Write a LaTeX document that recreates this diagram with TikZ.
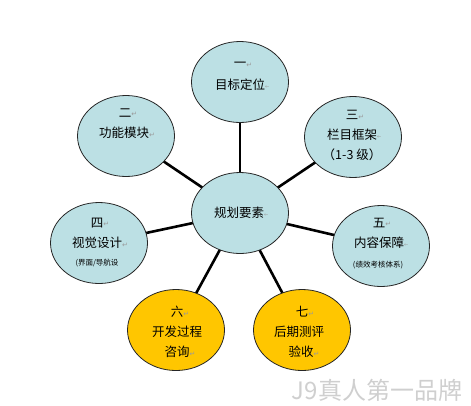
\documentclass[tikz,border=0pt]{standalone}
\usepackage{fontspec}
\setmainfont{Noto Sans CJK SC}
\newfontfamily\dv{DejaVu Sans}
\usetikzlibrary{shapes.geometric}
\definecolor{aquafill}{HTML}{BCE0E4}
\definecolor{goldfill}{HTML}{FFC600}
\definecolor{markgray}{HTML}{9A9A9A}
\definecolor{wmgray}{HTML}{CFCFCF}
\newcommand{\pmarkx}{\rlap{\textcolor{markgray}{\dv\scriptsize\raisebox{0.15ex}{↵}}}}
\newcommand{\amarkx}{\rlap{\textcolor{markgray}{\dv\tiny\raisebox{0.4ex}{←}}}}
\tikzset{
  bubble/.style={ellipse, draw=black!85, line width=0.8pt, minimum width=97pt, minimum height=81pt, inner sep=0pt},
  aqua/.style={bubble, fill=aquafill},
  gold/.style={bubble, fill=goldfill},
  lbl/.style={font=\fontsize{12.5}{14}\selectfont, inner sep=0pt, anchor=center},
  small/.style={font=\fontsize{7.5}{9}\selectfont, inner sep=0pt, anchor=center},
  spoke/.style={line width=2.6pt, black},
}
\begin{document}
\begin{tikzpicture}[x=1pt, y=-1pt]
\useasboundingbox (0,0) rectangle (471,405);
% spokes first (behind bubbles)
\coordinate (pc) at (240,213);
\coordinate (p1) at (240,82);
\coordinate (p2) at (126,136);
\coordinate (p3) at (353,137);
\coordinate (p4) at (99,243);
\coordinate (p5) at (381,246);
\coordinate (p6) at (176,330);
\coordinate (p7) at (302,330);
\foreach \i in {1,...,7} { \draw[spoke] (pc) -- (p\i); }
% bubbles
\node[aqua] (c) at (pc) {};
\node[aqua] (n1) at (p1) {};
\node[aqua] (n2) at (p2) {};
\node[aqua] (n3) at (p3) {};
\node[aqua] (n4) at (p4) {};
\node[aqua] (n5) at (p5) {};
\node[gold] (n6) at (p6) {};
\node[gold] (n7) at (p7) {};
% texts
\node[lbl] (t0) at (239,213) {规划要素\amarkx};
\node[lbl] (t1a) at (240,65) {一\pmarkx};
\node[lbl] (t1b) at (240,85) {目标定位\amarkx};
\node[lbl] (t2a) at (125,113) {二\pmarkx};
\node[lbl] (t2b) at (124,133) {功能模块\pmarkx};
\node[lbl] (t3a) at (352,115) {三\pmarkx};
\node[lbl] (t3b) at (352,135) {栏目框架\amarkx};
\node[lbl] (t3c) at (352,155) {（1-3 级）};
\node[lbl] (t4a) at (97,223) {四\pmarkx};
\node[lbl] (t4b) at (97,243) {视觉设计\pmarkx};
\node[small] (t4c) at (97,263) {(界面/导航设};
\node[lbl] (t5a) at (379,223) {五\pmarkx};
\node[lbl] (t5b) at (379,243) {内容保障\amarkx};
\node[small] (t5c) at (378,265) {(绩效考核体系)};
\node[lbl] (t6a) at (177,312) {六\pmarkx};
\node[lbl] (t6b) at (177,332) {开发过程};
\node[lbl] (t6c) at (177,352) {咨询\pmarkx};
\node[lbl] (t7a) at (302,312) {七\pmarkx};
\node[lbl] (t7b) at (299,332) {后期测评};
\node[lbl] (t7c) at (301,352) {验收\pmarkx};
% watermark
\node[font=\fontsize{24}{26}\selectfont, text=wmgray, inner sep=0pt, anchor=center] (wm) at (377,390) {J9真人第一品牌};
\end{tikzpicture}
\end{document}
